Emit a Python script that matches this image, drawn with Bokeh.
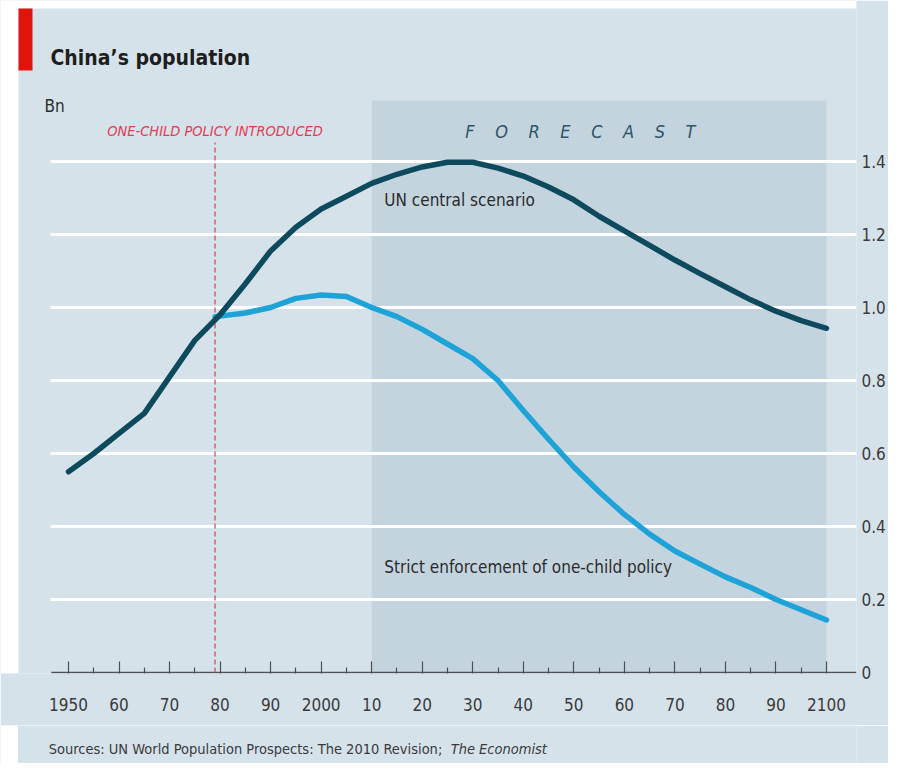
from bokeh.plotting import figure
from bokeh.layouts import column
from bokeh.models import FixedTicker, Label, BoxAnnotation, Range1d
from bokeh.embed import file_html
from bokeh.resources import INLINE

# ---- data (billions) ----
un_years = [1950, 1955, 1960, 1965, 1970, 1975, 1980, 1985, 1990, 1995, 2000, 2005,
            2010, 2015, 2020, 2025, 2030, 2035, 2040, 2045, 2050, 2055, 2060, 2065,
            2070, 2075, 2080, 2085, 2090, 2095, 2100]
un_central = [0.55, 0.60, 0.655, 0.71, 0.81, 0.91, 0.98, 1.065, 1.155, 1.22, 1.27, 1.305,
              1.34, 1.365, 1.385, 1.398, 1.398, 1.382, 1.36, 1.33, 1.295, 1.25, 1.21, 1.17,
              1.13, 1.093, 1.057, 1.021, 0.99, 0.964, 0.943]
strict_years = [1979, 1985, 1990, 1995, 2000, 2005, 2010, 2015, 2020, 2025, 2030, 2035,
                2040, 2045, 2050, 2055, 2060, 2065, 2070, 2075, 2080, 2085, 2090, 2095, 2100]
strict = [0.975, 0.985, 1.0, 1.025, 1.034, 1.03, 1.0, 0.975, 0.94, 0.90, 0.86, 0.80,
          0.718, 0.639, 0.563, 0.495, 0.433, 0.379, 0.333, 0.297, 0.262, 0.233, 0.20, 0.172, 0.144]
policy_year = 1979
forecast_start, forecast_end = 2010, 2100

x_ticks = [1950, 1960, 1970, 1980, 1990, 2000, 2010, 2020, 2030, 2040, 2050, 2060, 2070, 2080, 2090, 2100]
x_tick_labels = ["1950", "60", "70", "80", "90", "2000", "10", "20", "30", "40", "50", "60", "70", "80", "90", "2100"]
x_minor = [1955, 1965, 1975, 1985, 1995, 2005, 2015, 2025, 2035, 2045, 2055, 2065, 2075, 2085, 2095]
y_ticks = [0, 0.2, 0.4, 0.6, 0.8, 1.0, 1.2, 1.4]
y_tick_labels = ["0", "0.2", "0.4", "0.6", "0.8", "1.0", "1.2", "1.4"]

BG = "#d6e2ea"
SHADE = "#c4d4df"
DARK = "#0e4a5d"
LIGHT = "#1ea3d8"
RED = "#e23a55"
TXT = "#2b2b2b"
AX = "#4a4f55"
FONT = "DejaVu Sans Condensed"

X0, X1 = 1936.544, 2105.94
Y0, Y1 = -1 / 365, 672 / 365

p = figure(width=888, height=725, output_backend="svg", toolbar_location=None,
           x_range=Range1d(X0, X1), y_range=Range1d(Y0, Y1),
           y_axis_location="right",
           min_border_left=0, min_border_right=32, min_border_top=0, min_border_bottom=52)
p.background_fill_color = BG
p.border_fill_color = BG
p.outline_line_color = None
p.xgrid.visible = False
p.ygrid.visible = False

# white page margin strips (left / top)
p.add_layout(BoxAnnotation(right=1940.106, fill_color="white", fill_alpha=1, line_color=None))
p.add_layout(BoxAnnotation(bottom=1.819, fill_color="white", fill_alpha=1, line_color=None))

# forecast shading
p.add_layout(BoxAnnotation(left=forecast_start, right=forecast_end, bottom=0, top=1.567,
                           fill_color=SHADE, fill_alpha=1.0, line_color=None, level="underlay"))

# horizontal gridlines
gy = y_ticks[1:]
p.segment(x0=[1946.44] * len(gy), y0=gy, x1=[X1] * len(gy), y1=gy,
          line_color="white", line_width=3)
# baseline
p.segment(x0=[1946.6], y0=[0], x1=[X1], y1=[0], line_color=AX, line_width=1.6)

# x axis
xa = p.xaxis[0]
xa.ticker = FixedTicker(ticks=x_ticks, minor_ticks=x_minor)
xa.major_label_overrides = {t: l for t, l in zip(x_ticks, x_tick_labels)}
xa.axis_line_color = None
xa.major_tick_line_color = AX
xa.minor_tick_line_color = AX
xa.major_tick_in = 12
xa.major_tick_out = 0
xa.minor_tick_in = 6
xa.minor_tick_out = 0
xa.major_tick_line_width = 1.2
xa.minor_tick_line_width = 1.2
xa.major_label_text_font = FONT
xa.major_label_text_font_size = "17px"
xa.major_label_text_color = "#3a3a3a"
xa.major_label_standoff = 24

# y axis (right)
ya = p.yaxis[0]
ya.ticker = FixedTicker(ticks=y_ticks)
ya.major_label_overrides = {t: l for t, l in zip(y_ticks, y_tick_labels)}
ya.axis_line_color = None
ya.major_tick_line_color = None
ya.minor_tick_line_color = None
ya.major_tick_in = 0
ya.major_tick_out = 0
ya.minor_tick_in = 0
ya.minor_tick_out = 0
ya.major_label_text_font = FONT
ya.major_label_text_font_size = "17px"
ya.major_label_text_color = "#3a3a3a"
ya.major_label_standoff = 5

# policy line
p.segment(x0=[policy_year], y0=[0], x1=[policy_year], y1=[1.452],
          line_color=RED, line_width=1.2, line_dash="5 3")

# series
p.line(strict_years, strict, line_color=LIGHT, line_width=5.5, line_join="round", line_cap="round")
p.line(un_years, un_central, line_color=DARK, line_width=5.5, line_join="round", line_cap="round")

# red bar
p.add_layout(BoxAnnotation(left=1940.106, right=1942.876, bottom=1.649, top=1.819,
                           fill_color="#e3120b", fill_alpha=1.0, line_color=None))


def lab(fig, x, y, text, size, color=TXT, style="normal", align="left"):
    fig.add_layout(Label(x=x, y=y, text=text, text_font=FONT, text_font_size=size,
                         text_color=color, text_font_style=style, text_align=align,
                         text_baseline="middle"))


lab(p, 1946.44, 1.6849, "China’s population", "21px", color="#1e1e1e", style="bold")
lab(p, 1945.25, 1.5534, "Bn", "17px")
lab(p, policy_year, 1.4822, "ONE-CHILD POLICY INTRODUCED", "14.5px", color=RED, style="italic", align="center")
nb = "\u00a0" * 4
lab(p, 2051.3, 1.4822, nb.join("FORECAST"), "18px", color="#2f5566", style="italic", align="center")
lab(p, 2012.5, 1.2932, "UN central scenario", "17px")
lab(p, 2012.5, 0.2877, "Strict enforcement of one-child policy", "17px")

# sources strip (pixel coordinates)
s = figure(width=888, height=38, output_backend="svg", toolbar_location=None,
           x_range=Range1d(0, 888), y_range=Range1d(38, 0),
           min_border_left=0, min_border_right=0, min_border_top=0, min_border_bottom=0)
s.axis.visible = False
s.grid.visible = False
s.outline_line_color = None
s.background_fill_color = BG
s.border_fill_color = BG
s.add_layout(BoxAnnotation(right=18, fill_color="white", fill_alpha=1, line_color=None))
src_main = "Sources: UN World Population Prospects: The 2010 Revision;"
src_ital = "The Economist"
lab(s, 50, 23, src_main, "14.5px", color="#3a3a3a")
lab(s, 467, 23, src_ital, "14.5px", color="#3a3a3a", style="italic")

layout = column(p, s, spacing=0)
open("out.html", "w").write(file_html(layout, INLINE))
